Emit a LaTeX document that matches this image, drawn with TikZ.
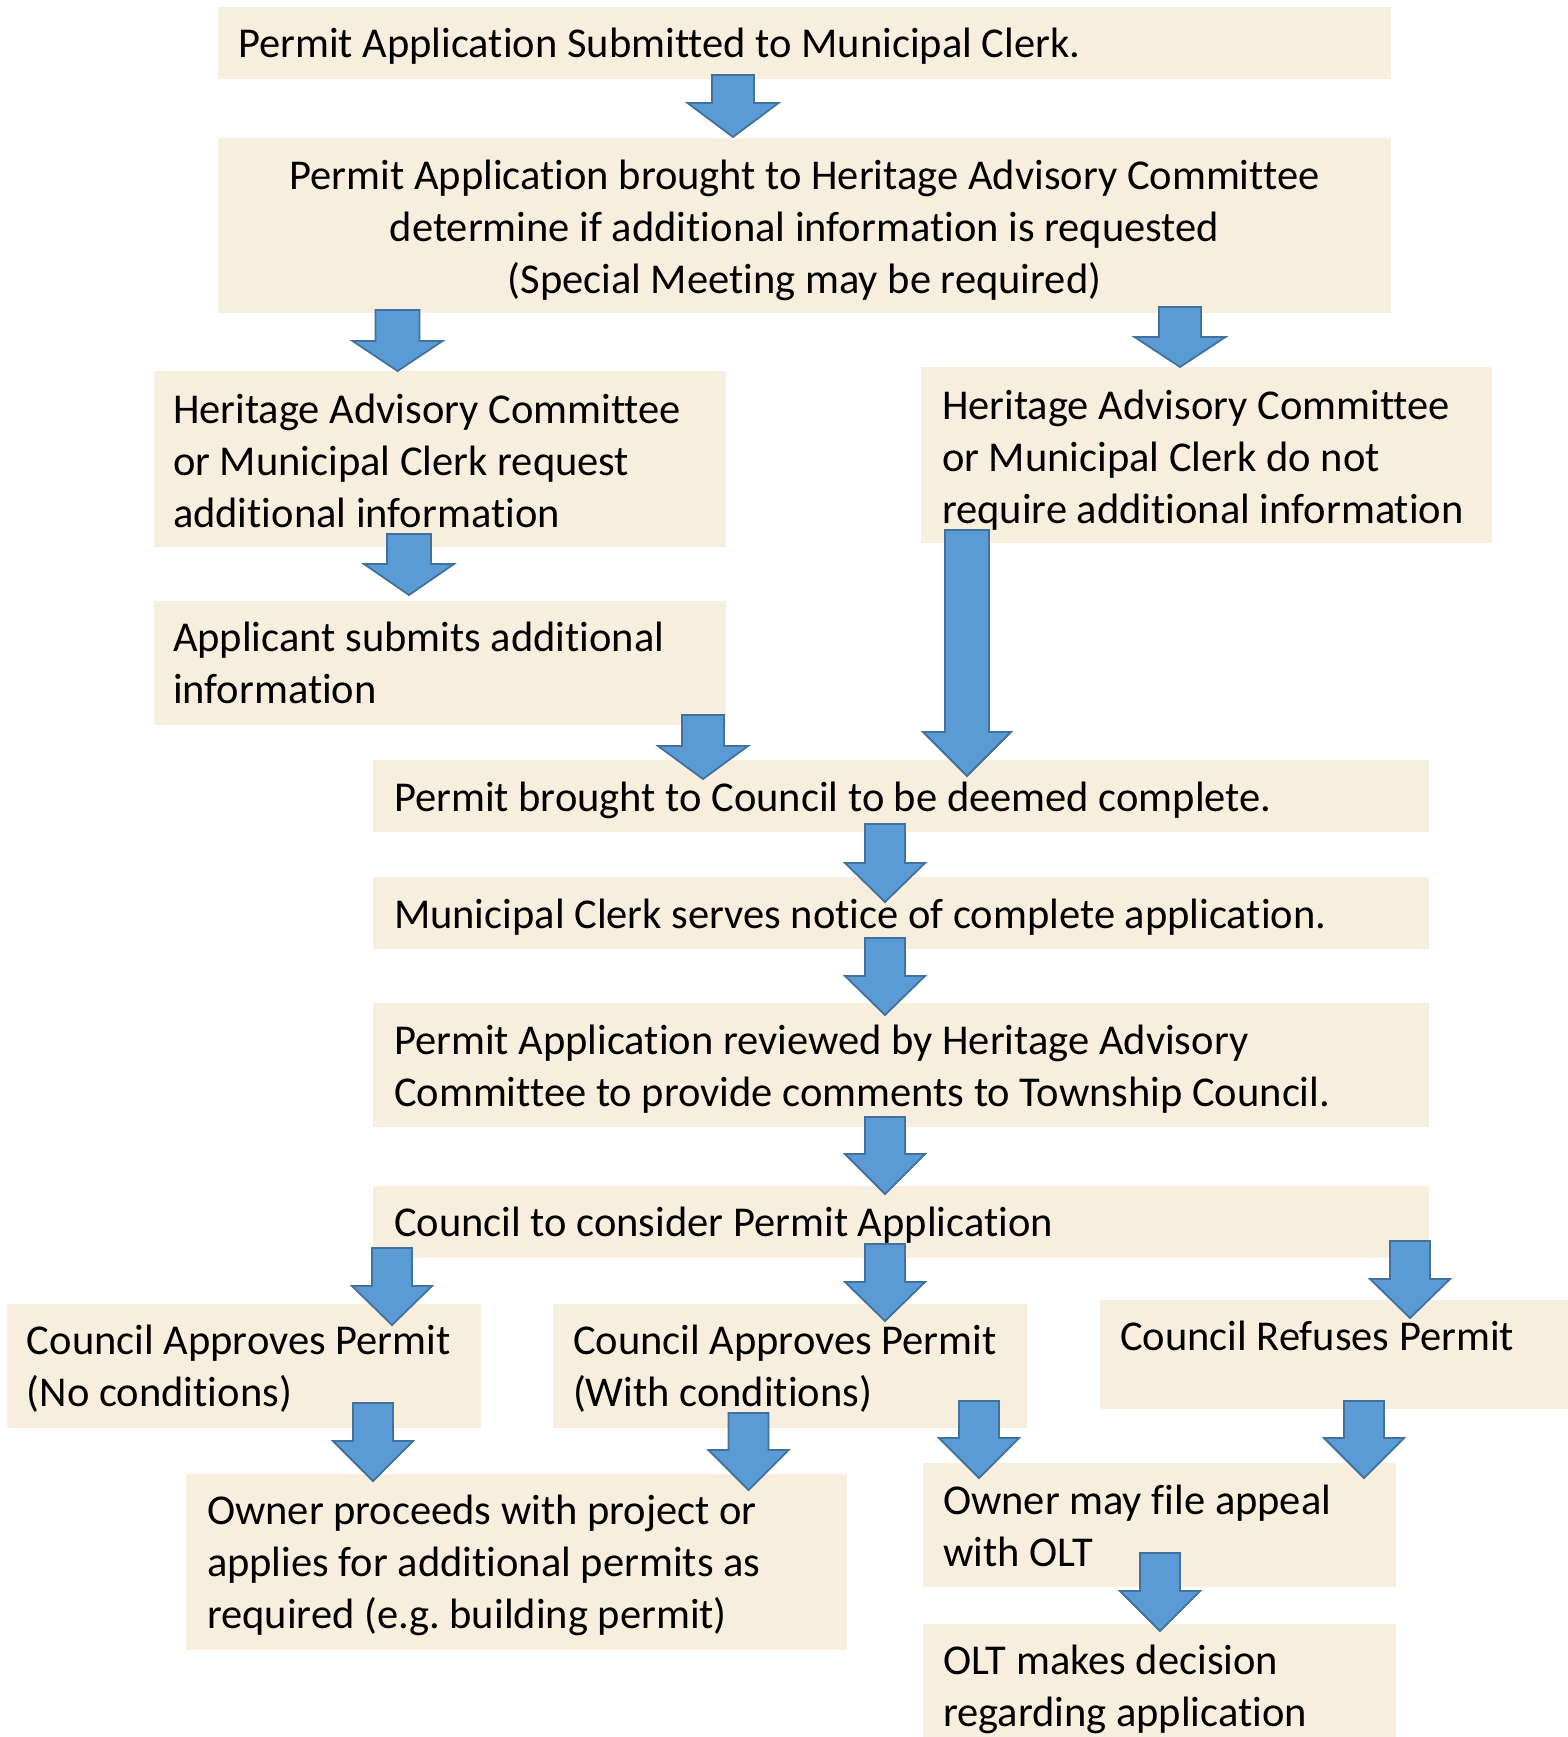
\documentclass[tikz,border=0pt]{standalone}
\usepackage{fontspec}
\setmainfont{Carlito}[Ligatures=NoCommon]
\frenchspacing
\usetikzlibrary{calc}

\definecolor{boxfill}{RGB}{248,238,221}
\definecolor{arrowfill}{RGB}{91,155,213}
\definecolor{arrowline}{RGB}{65,113,156}

% box: name, x1, y1, x2, y2 (y grows downwards)
\newcommand{\flowbox}[5]{%
  \node[panel, minimum width={#4-#2}, minimum height={#5-#3}] (#1)
    at ({(#2+#4)/2},{(#3+#5)/2}) {};}
% text block, first baseline at the anchor point
\newcommand{\linesL}[1]{\parbox[t]{1000pt}{\raggedright #1}}
\newcommand{\linesC}[2]{\parbox[t]{#1pt}{\centering #2}}
% block arrow from a named start to a named tip:
% #1 start, #2 tip, #3 head length, #4 half shaft width, #5 half head width
\newcommand{\blockarrow}[5]{%
  \path[fatarrow] let \p1=(#1), \p2=(#2) in
    ({\x1-#4pt},\y1) -- ({\x1+#4pt},\y1) -- ({\x1+#4pt},{\y2+#3pt})
    -- ({\x1+#5pt},{\y2+#3pt}) -- (\x1,\y2) -- ({\x1-#5pt},{\y2+#3pt})
    -- ({\x1-#4pt},{\y2+#3pt}) -- cycle;}

\begin{document}
\begin{tikzpicture}[x=1pt,y=-1pt,
  panel/.style={fill=boxfill, draw=none, inner sep=0pt, outer sep=0pt},
  fatarrow/.style={fill=arrowfill, draw=arrowline, line width=1.8pt, line join=miter},
  txt/.style={inner sep=0pt, outer sep=0pt, anchor=base west,
    font=\fontsize{42.5}{52}\selectfont}]
\useasboundingbox (0,0) rectangle (1568,1737);

% boxes
\flowbox{b1}{218}{7}{1391}{79}
\flowbox{b2}{218}{138}{1391}{313}
\flowbox{b3}{154}{371}{726}{547}
\flowbox{b4}{921}{367}{1492}{543}
\flowbox{b5}{154}{601}{726}{725}
\flowbox{b6}{373}{760}{1429}{832}
\flowbox{b7}{373}{877}{1429}{949}
\flowbox{b8}{373}{1003}{1429}{1127}
\flowbox{b9}{373}{1186}{1429}{1258}
\flowbox{b10a}{7}{1304}{481}{1428}
\flowbox{b10b}{553}{1304}{1027}{1428}
\flowbox{b10c}{1100}{1300}{1568}{1409}
\flowbox{b11}{186}{1474}{847}{1650}
\flowbox{b12}{923}{1463}{1396}{1587}
\flowbox{b13}{923}{1624}{1396}{1737}

% arrow end points
\coordinate (b1-out) at (733,75);      \coordinate (b2-in) at (733,137);
\coordinate (b2-outL) at (397.5,310);  \coordinate (b3-in) at (397.5,371);
\coordinate (b2-outR) at (1180,307);   \coordinate (b4-in) at (1180,367);
\coordinate (b3-out) at (409,534);     \coordinate (b5-in) at (409,595);
\coordinate (b5-out) at (703,715);     \coordinate (b6-inL) at (703,779);
\coordinate (b4-out) at (967,530);     \coordinate (b6-inR) at (967,776);
\coordinate (b6-out) at (885,824);     \coordinate (b7-in) at (885,902);
\coordinate (b7-out) at (885,938);     \coordinate (b8-in) at (885,1015);
\coordinate (b8-out) at (885,1117);    \coordinate (b9-in) at (885,1194);
\coordinate (b9-outL) at (392,1248);   \coordinate (b10a-in) at (392,1325);
\coordinate (b9-outM) at (885,1244);   \coordinate (b10b-in) at (885,1321);
\coordinate (b9-outR) at (1410,1241);  \coordinate (b10c-in) at (1410,1318);
\coordinate (b10a-out) at (373,1403);  \coordinate (b11-inL) at (373,1481);
\coordinate (b10b-outL) at (748.5,1413); \coordinate (b11-inR) at (748.5,1490);
\coordinate (b10b-outR) at (979,1401); \coordinate (b12-inL) at (979,1478);
\coordinate (b10c-out) at (1364,1401); \coordinate (b12-inR) at (1364,1478);
\coordinate (b12-out) at (1160,1553);  \coordinate (b13-in) at (1160,1631);

% arrows
\blockarrow{b1-out}{b2-in}{34}{21}{45.5}
\blockarrow{b2-outL}{b3-in}{30}{22}{45}
\blockarrow{b2-outR}{b4-in}{30}{21}{45.5}
\blockarrow{b3-out}{b5-in}{31}{22}{45}
\blockarrow{b5-out}{b6-inL}{33}{21}{45}
\blockarrow{b4-out}{b6-inR}{44}{22}{44}
\blockarrow{b6-out}{b7-in}{39}{20}{40}
\blockarrow{b7-out}{b8-in}{39}{20}{40}
\blockarrow{b8-out}{b9-in}{40}{20}{40}
\blockarrow{b9-outL}{b10a-in}{39}{20}{40}
\blockarrow{b9-outM}{b10b-in}{39}{20}{40}
\blockarrow{b9-outR}{b10c-in}{39}{20}{40}
\blockarrow{b10a-out}{b11-inL}{40}{20}{40}
\blockarrow{b10b-outL}{b11-inR}{40}{20}{40}
\blockarrow{b10b-outR}{b12-inL}{40}{20}{40}
\blockarrow{b10c-out}{b12-inR}{40}{20}{40}
\blockarrow{b12-out}{b13-in}{40}{20}{40}

% texts
\node[txt] (t1) at (238,58) {Permit Application Submitted to Municipal Clerk.};
\node[txt, anchor=base] (t2) at (804.5,189) {\linesC{1173}{Permit Application brought to Heritage Advisory Committee\\
  determine if additional information is requested\\(Special Meeting may be required)}};
\node[txt] (t3) at (173,423) {\linesL{Heritage Advisory Committee\\or Municipal Clerk request\\additional information}};
\node[txt] (t4) at (942,419) {\linesL{Heritage Advisory Committee\\or Municipal Clerk do not\\require additional information}};
\node[txt] (t5) at (173,651) {\linesL{Applicant submits additional\\information}};
\node[txt] (t6) at (394,811) {Permit brought to Council to be deemed complete.};
\node[txt] (t7) at (394,928) {Municipal Clerk serves notice of complete application.};
\node[txt] (t8) at (394,1054) {\linesL{Permit Application reviewed by Heritage Advisory\\Committee to provide comments to Township Council.}};
\node[txt] (t9) at (394,1236) {Council to consider Permit Application};
\node[txt] (t10a) at (27,1354) {\linesL{Council Approves Permit\\(No conditions)}};
\node[txt] (t10b) at (573,1354) {\linesL{Council Approves Permit\\(With conditions)}};
\node[txt] (t10c) at (1120,1350) {Council Refuses Permit};
\node[txt] (t11) at (207,1524) {\linesL{Owner proceeds with project or\\applies for additional permits as\\required (e.g. building permit)}};
\node[txt] (t12) at (943,1514) {\linesL{Owner may file appeal\\with OLT}};
\node[txt] (t13) at (943,1674) {\linesL{OLT makes decision\\regarding application}};
\end{tikzpicture}
\end{document}
